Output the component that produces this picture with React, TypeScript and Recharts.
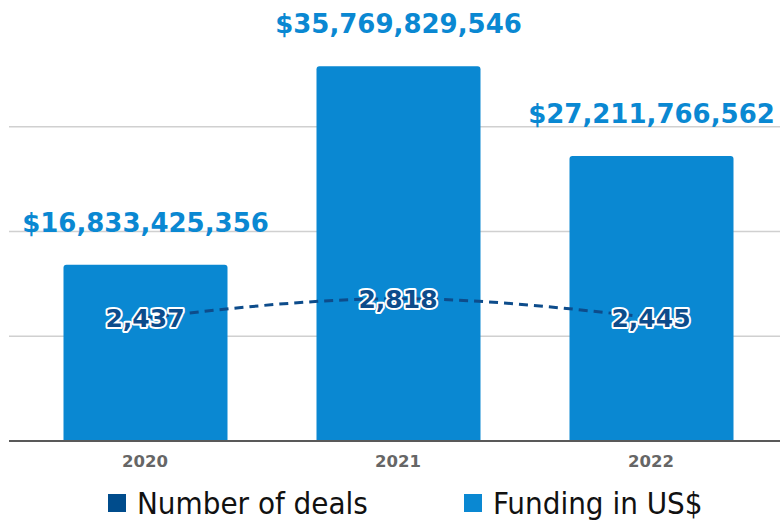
import React from 'react'
import {
  ComposedChart,
  Bar,
  Line,
  XAxis,
  YAxis,
  CartesianGrid,
  Legend,
  LabelList,
} from 'recharts'

// values
const YEARS = ['2020', '2021', '2022']
const FUNDING_USD = [16833425356, 35769829546, 27211766562]
const DEALS = [2437, 2818, 2445]
const FUNDING_TICKS = [0, 10e9, 20e9, 30e9]

const BAR_BLUE = '#0a88d2'
const NAVY = '#0d4c8b'
const BOLD_FONT = "'DejaVu Sans', Verdana, sans-serif"

const data = YEARS.map((year, i) => ({
  year,
  funding: FUNDING_USD[i],
  deals: DEALS[i],
}))

const fmtUsd = (v: number) => `$${Number(v).toLocaleString('en-US')}`

function DealLabel(props: any) {
  const { x, y, value } = props
  return (
    <text
      x={x}
      y={y}
      dy="0.36em"
      textAnchor="middle"
      fontFamily={BOLD_FONT}
      fontWeight={700}
      fontSize={25}
      fill={NAVY}
      stroke="#ffffff"
      strokeWidth={4}
      strokeLinejoin="round"
      paintOrder="stroke"
    >
      {Number(value).toLocaleString('en-US')}
    </text>
  )
}

function YearTick(props: any) {
  const { x, y, payload } = props
  return (
    <text
      x={x}
      y={y}
      dy="0.71em"
      textAnchor="middle"
      fontFamily={BOLD_FONT}
      fontWeight={700}
      fontSize={16.5}
      fill="#666666"
    >
      {payload.value}
    </text>
  )
}

function LegendBox() {
  const items = [
    { label: 'Number of deals', color: '#004c8c', left: 108 },
    { label: 'Funding in US$', color: BAR_BLUE, left: 464 },
  ]
  return (
    <div
      style={{
        position: 'relative',
        height: 52,
        fontFamily: "'Liberation Sans Narrow', 'DejaVu Sans Condensed', sans-serif",
        fontSize: 31,
        color: '#111',
        whiteSpace: 'nowrap',
      }}
    >
      {items.map((it) => (
        <div
          key={it.label}
          style={{ position: 'absolute', left: it.left, top: 14, display: 'flex', alignItems: 'center' }}
        >
          <span style={{ width: 18, height: 18, background: it.color, marginRight: 11, display: 'inline-block' }} />
          <span style={{ lineHeight: '36px' }}>{it.label}</span>
        </div>
      ))}
    </div>
  )
}

export default function App() {
  return (
    <div style={{ position: 'absolute', left: 0, top: 0, width: 780, height: 523, background: '#fff' }}>
      <ComposedChart
        width={780}
        height={523}
        data={data}
        margin={{ top: 22, right: 0, bottom: 0, left: 9 }}
      >
        <CartesianGrid
          yAxisId="usd"
          vertical={false}
          horizontalValues={FUNDING_TICKS}
          stroke="#d0d0d0"
          strokeWidth={1.5}
        />
        <XAxis
          dataKey="year"
          height={30}
          padding={{ left: 9.5, right: 2.5 }}
          axisLine={{ stroke: '#595959', strokeWidth: 2 }}
          tickLine={false}
          tickMargin={8}
          tick={<YearTick />}
        />
        <YAxis yAxisId="usd" hide domain={[0, 40e9]} ticks={FUNDING_TICKS} />
        <YAxis yAxisId="deals" hide orientation="right" domain={[0, 8300]} />
        <Legend verticalAlign="bottom" content={() => <LegendBox />} wrapperStyle={{ left: 0, width: 780, height: 52 }} />
        <Bar
          yAxisId="usd"
          dataKey="funding"
          name="Funding in US$"
          fill={BAR_BLUE}
          barSize={164}
          radius={[3, 3, 0, 0]}
          isAnimationActive={false}
        >
          <LabelList
            dataKey="funding"
            position="top"
            offset={33}
            formatter={(v: any) => fmtUsd(v)}
            fill={BAR_BLUE}
            fontSize={26}
            fontWeight={700}
            fontFamily={BOLD_FONT}
          />
        </Bar>
        <Line
          yAxisId="deals"
          type="monotone"
          dataKey="deals"
          name="Number of deals"
          stroke={NAVY}
          strokeWidth={3}
          strokeDasharray="9 6"
          dot={false}
          activeDot={false}
          isAnimationActive={false}
        >
          <LabelList dataKey="deals" content={DealLabel} />
        </Line>
      </ComposedChart>
    </div>
  )
}
